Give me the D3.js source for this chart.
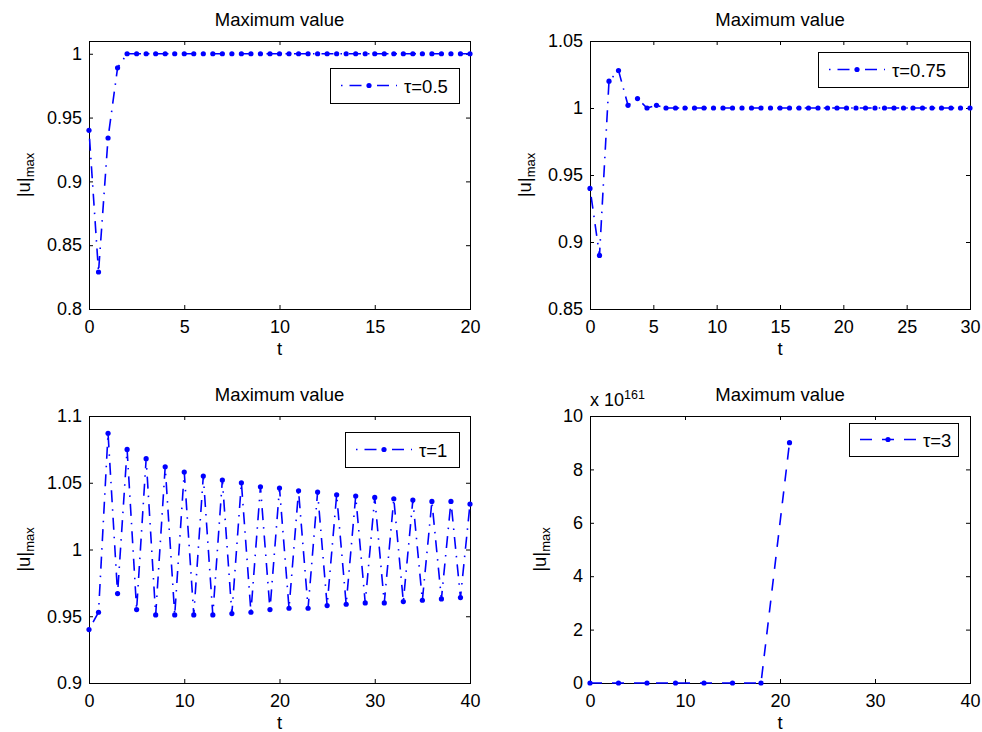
<!DOCTYPE html>
<html>
<head>
<meta charset="utf-8">
<script src="https://cdnjs.cloudflare.com/ajax/libs/d3/7.8.5/d3.min.js"></script>
<style>
body { margin: 0; background: #fff; }
svg { display: block; font-family: "Liberation Sans", Arial, Helvetica, sans-serif; }
</style>
</head>
<body>
<svg id="svg1" width="982" height="732"></svg>
<script>
// values

const tau05_t = [0, 0.5, 1, 1.5, 2, 2.5, 3, 3.5, 4, 4.5, 5, 5.5, 6, 6.5, 7, 7.5, 8, 8.5, 9, 9.5,
    10, 10.5, 11, 11.5, 12, 12.5, 13, 13.5, 14, 14.5, 15, 15.5, 16, 16.5, 17, 17.5, 18, 18.5, 19, 19.5, 20];
const tau05_u = [0.940, 0.829, 0.934, 0.989, 1, 1, 1, 1, 1, 1, 1, 1, 1, 1, 1, 1, 1, 1, 1, 1,
    1, 1, 1, 1, 1, 1, 1, 1, 1, 1, 1, 1, 1, 1, 1, 1, 1, 1, 1, 1, 1];

const tau075_t = [0, 0.75, 1.5, 2.25, 3, 3.75, 4.5, 5.25, 6, 6.75, 7.5, 8.25, 9, 9.75, 10.5, 11.25,
    12, 12.75, 13.5, 14.25, 15, 15.75, 16.5, 17.25, 18, 18.75, 19.5, 20.25, 21, 21.75, 22.5, 23.25,
    24, 24.75, 25.5, 26.25, 27, 27.75, 28.5, 29.25, 30];
const tau075_u = [0.940, 0.890, 1.020, 1.028, 1.002, 1.007, 1.000, 1.002, 1, 1, 1, 1, 1, 1, 1, 1,
    1, 1, 1, 1, 1, 1, 1, 1, 1, 1, 1, 1, 1, 1, 1, 1, 1, 1, 1, 1, 1, 1, 1, 1, 1];

const tau1_t = [0, 1, 2, 3, 4, 5, 6, 7, 8, 9, 10, 11, 12, 13, 14, 15, 16, 17, 18, 19, 20,
    21, 22, 23, 24, 25, 26, 27, 28, 29, 30, 31, 32, 33, 34, 35, 36, 37, 38, 39, 40];
const tau1_u = [0.940, 0.953, 1.087, 0.967, 1.075, 0.955, 1.068, 0.951, 1.062, 0.951, 1.058,
    0.951, 1.055, 0.951, 1.052, 0.952, 1.050, 0.953, 1.047, 0.955, 1.046, 0.956, 1.044, 0.956,
    1.043, 0.958, 1.041, 0.959, 1.040, 0.960, 1.039, 0.960, 1.038, 0.961, 1.037, 0.962, 1.036,
    0.963, 1.036, 0.964, 1.034];

const tau3_t = [0, 3, 6, 9, 12, 15, 18, 21];
const tau3_u = [0, 0, 0, 0, 0, 0, 0, 9e161];

const xTicks20 = [0, 5, 10, 15, 20];
const xTicks30 = [0, 5, 10, 15, 20, 25, 30];
const xTicks40 = [0, 10, 20, 30, 40];
const yTicks1 = [0.8, 0.85, 0.9, 0.95, 1];
const yTicks2 = [0.85, 0.9, 0.95, 1, 1.05];
const yTicks3 = [0.9, 0.95, 1, 1.05, 1.1];
const yTicks4 = [0, 2e161, 4e161, 6e161, 8e161, 10e161];
const expPower = 161;

const legendLabels = ['\u03c4=0.5', '\u03c4=0.75', '\u03c4=1', '\u03c4=3'];
const titleText = 'Maximum value';

const svg = d3.select('#svg1');
const blue = '#0000ff';
const dashDot = '1.5,7,12,7';
const dashed = '12,10';

const panels = [
    { left: 89, right: 470, top: 41, bottom: 309, xDom: [0, 20], yDom: [0.8, 1.01],
      xt: xTicks20, yt: yTicks1, t: tau05_t, u: tau05_u, dash: dashDot, label: legendLabels[0],
      leg: { x: 330, y: 68, w: 129, h: 35 }, ylabX: 30 },
    { left: 590, right: 970, top: 41, bottom: 309, xDom: [0, 30], yDom: [0.85, 1.05],
      xt: xTicks30, yt: yTicks2, t: tau075_t, u: tau075_u, dash: dashDot, label: legendLabels[1],
      leg: { x: 818, y: 52, w: 150, h: 35 }, ylabX: 531 },
    { left: 89, right: 470, top: 416, bottom: 683, xDom: [0, 40], yDom: [0.9, 1.1],
      xt: xTicks40, yt: yTicks3, t: tau1_t, u: tau1_u, dash: dashDot, label: legendLabels[2],
      leg: { x: 345, y: 432, w: 114, h: 35 }, ylabX: 30 },
    { left: 590, right: 970, top: 416, bottom: 683, xDom: [0, 40], yDom: [0, 10e161],
      xt: xTicks40, yt: yTicks4, t: tau3_t, u: tau3_u, dash: dashed, label: legendLabels[3],
      leg: { x: 849, y: 423, w: 109, h: 33 }, ylabX: 546, exp: true }
];

panels.forEach(p => {
    const g = svg.append('g');
    const x = d3.scaleLinear().domain(p.xDom).range([p.left, p.right]);
    const y = d3.scaleLinear().domain(p.yDom).range([p.bottom, p.top]);
    const fmtY = p.exp ? (d => String(Math.round(d / Math.pow(10, expPower)))) : (d => String(d));

    // axes with ticks pointing inward, MATLAB style
    const ax = [
        g.append('g').attr('transform', `translate(0,${p.bottom})`)
            .call(d3.axisBottom(x).tickValues(p.xt).tickSize(-4).tickPadding(11).tickFormat(d => String(d))),
        g.append('g').attr('transform', `translate(0,${p.top})`)
            .call(d3.axisTop(x).tickValues(p.xt).tickSize(-4).tickFormat('')),
        g.append('g').attr('transform', `translate(${p.left},0)`)
            .call(d3.axisLeft(y).tickValues(p.yt).tickSize(-4).tickPadding(7).tickFormat(fmtY)),
        g.append('g').attr('transform', `translate(${p.right},0)`)
            .call(d3.axisRight(y).tickValues(p.yt).tickSize(-4).tickFormat(''))
    ];
    ax.forEach(a => {
        a.select('.domain').remove();
        a.selectAll('line').attr('stroke', '#000');
        a.selectAll('text').attr('fill', '#000').style('font-size', '18px')
            .style('font-family', '"Liberation Sans", Arial, sans-serif');
    });

    g.append('rect')
        .attr('x', p.left + 0.5).attr('y', p.top + 0.5)
        .attr('width', p.right - p.left).attr('height', p.bottom - p.top)
        .attr('fill', 'none').attr('stroke', '#000').attr('stroke-width', 1);

    // title and labels
    g.append('text')
        .attr('x', (p.left + p.right) / 2).attr('y', p.top - 15)
        .attr('text-anchor', 'middle').style('font-size', '18.5px')
        .text(titleText);

    g.append('text')
        .attr('x', (p.left + p.right) / 2).attr('y', p.bottom + 46)
        .attr('text-anchor', 'middle').style('font-size', '18.5px')
        .text('t');

    const yl = g.append('text')
        .attr('transform', `translate(${p.ylabX},${(p.top + p.bottom) / 2}) rotate(-90)`)
        .attr('text-anchor', 'middle').style('font-size', '18.5px');
    yl.append('tspan').text('|u|');
    yl.append('tspan').attr('dy', '0.3em').style('font-size', '13px').text('max');

    if (p.exp) {
        const ex = g.append('text')
            .attr('x', p.left).attr('y', p.top - 10).style('font-size', '18px');
        ex.append('tspan').text('x 10');
        ex.append('tspan').attr('dy', '-0.6em').style('font-size', '12.5px').text(expPower);
    }

    // series
    const pts = p.t.map((tv, i) => [tv, p.u[i]]);
    const line = d3.line().x(d => x(d[0])).y(d => y(d[1]));

    g.append('path')
        .datum(pts)
        .attr('d', line)
        .attr('fill', 'none')
        .attr('stroke', blue)
        .attr('stroke-width', 1.6)
        .attr('stroke-dasharray', p.dash);

    g.selectAll('circle.pt')
        .data(pts)
        .enter().append('circle')
        .attr('class', 'pt')
        .attr('cx', d => x(d[0]))
        .attr('cy', d => y(d[1]))
        .attr('r', 2.6)
        .attr('fill', blue);

    // legend
    const L = p.leg;
    g.append('rect')
        .attr('x', L.x + 0.5).attr('y', L.y + 0.5)
        .attr('width', L.w).attr('height', L.h)
        .attr('fill', '#fff').attr('stroke', '#000');
    const ly = L.y + L.h / 2;
    g.append('line')
        .attr('x1', L.x + 11).attr('x2', L.x + 67)
        .attr('y1', ly).attr('y2', ly)
        .attr('stroke', blue).attr('stroke-width', 1.6)
        .attr('stroke-dasharray', p.dash);
    g.append('circle')
        .attr('cx', L.x + 39).attr('cy', ly).attr('r', 2.6).attr('fill', blue);
    g.append('text')
        .attr('x', L.x + 74).attr('y', ly + 7)
        .style('font-size', '18.5px')
        .text(p.label);
});
</script>
</body>
</html>
